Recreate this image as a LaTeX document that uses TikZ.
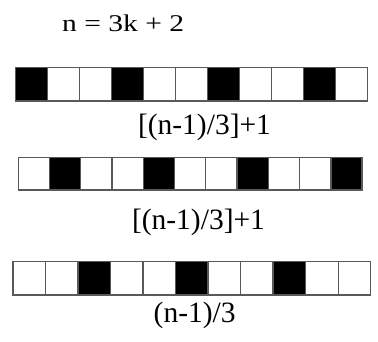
\documentclass[tikz,border=0pt]{standalone}
\usepackage{fontspec}
\setmainfont{Liberation Serif}
\begin{document}
\begin{tikzpicture}[x=1pt,y=-1pt,
  cell/.style={draw=black!65,line width=1.3pt,inner sep=0pt,anchor=north west,fill=white},
  dark/.style={fill=black},
  lab/.style={inner sep=0pt,anchor=base,font=\fontsize{29.5}{32}\selectfont},
  ttl/.style={inner sep=0pt,anchor=base west,font=\fontsize{24}{27}\selectfont}]
\useasboundingbox (0,0) rectangle (378,342);
\node[ttl] (title) at (62,32) {\scalebox{1.23}[1]{n = 3k + 2}};
% row 1
\foreach \i in {0,...,10}{
  \pgfmathtruncatemacro\m{mod(\i,3)}
  \ifnum\m=0
    \node[cell,dark,minimum width=32.05pt,minimum height=33.6pt] (a\i) at ({14.5+\i*32.05},66.8) {};
  \else
    \node[cell,minimum width=32.05pt,minimum height=33.6pt] (a\i) at ({14.5+\i*32.05},66.8) {};
  \fi
}
\node[lab] (l1) at (204.5,135) {[(n-1)/3]+1};
% row 2
\foreach \i in {0,...,10}{
  \pgfmathtruncatemacro\m{mod(\i,3)}
  \ifnum\m=1
    \node[cell,dark,minimum width=31.27pt,minimum height=32.6pt] (b\i) at ({17.5+\i*31.27},156.8) {};
  \else
    \node[cell,minimum width=31.27pt,minimum height=32.6pt] (b\i) at ({17.5+\i*31.27},156.8) {};
  \fi
}
\node[lab] (l2) at (198.5,230) {[(n-1)/3]+1};
% row 3
\foreach \i in {0,...,10}{
  \pgfmathtruncatemacro\m{mod(\i,3)}
  \ifnum\m=2
    \node[cell,dark,minimum width=32.52pt,minimum height=33.3pt] (c\i) at ({12.3+\i*32.52},261) {};
  \else
    \node[cell,minimum width=32.52pt,minimum height=33.3pt] (c\i) at ({12.3+\i*32.52},261) {};
  \fi
}
\node[lab] (l3) at (194.7,323) {(n-1)/3};
\end{tikzpicture}
\end{document}
